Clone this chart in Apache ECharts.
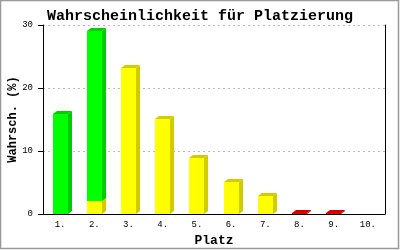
<!DOCTYPE html>
<html><head><meta charset="utf-8">
<script src="https://cdn.jsdelivr.net/npm/echarts@6/dist/echarts.min.js"></script>
<style>html,body{margin:0;padding:0;background:#fff}#c{width:400px;height:250px}</style>
</head><body><div id="c"></div>
<script>
const categories = ['1.', '2.', '3.', '4.', '5.', '6.', '7.', '8.', '9.', '10.'];
const yellowValues = [0, 2.1, 23.2, 15.1, 8.9, 5.1, 2.9, 0, 0, 0];
const greenValues = [15.9, 26.9, 0, 0, 0, 0, 0, 0, 0, 0];
const redValues = [0, 0, 0, 0, 0, 0, 0, 0.1, 0.1, 0];
const yTicks = [0, 10, 20, 30];

const stackOrder = [
  { values: yellowValues, front: '#ffff00', side: '#d0cc00' },
  { values: greenValues, front: '#00ff00', side: '#00cc00' },
  { values: redValues, front: '#ee0000', side: '#cc0000' }
];

const base = categories.map(() => 0);
const series = stackOrder.map(s => {
  const data = [];
  s.values.forEach((v, i) => {
    if (v > 0) { data.push([i, base[i], base[i] + v]); base[i] += v; }
  });
  return {
    type: 'custom',
    data: data,
    renderItem: function (params, api) {
      const p0 = api.coord([api.value(0), api.value(1)]);
      const p1 = api.coord([api.value(0), api.value(2)]);
      const w = 15, dx = 4, dy = 3;
      const xl = Math.round(p0[0] - w / 2), xr = xl + w;
      const yb = Math.round(p0[1]), yt = Math.round(p1[1]);
      return {
        type: 'group',
        children: [
          { type: 'polygon', shape: { points: [[xr, yt], [xr + dx, yt - dy], [xr + dx, yb - dy], [xr, yb]] }, style: { fill: s.side } },
          { type: 'polygon', shape: { points: [[xl, yt], [xl + dx, yt - dy], [xr + dx, yt - dy], [xr, yt]] }, style: { fill: s.side } },
          { type: 'rect', shape: { x: xl, y: yt, width: w, height: yb - yt }, style: { fill: s.front } }
        ]
      };
    }
  };
});

const chart = echarts.init(document.getElementById('c'), null, { renderer: 'canvas' });
chart.setOption({
  animation: false,
  backgroundColor: '#fff',
  title: {
    text: 'Wahrscheinlichkeit für Platzierung',
    left: 'center', top: 4,
    textStyle: { fontFamily: 'Liberation Mono', fontWeight: 'bold', fontSize: 15, color: '#000' }
  },
  grid: { left: 43, right: 15, top: 25, bottom: 36, containLabel: false, outerBoundsMode: 'none' },
  xAxis: {
    type: 'category', data: categories,
    name: 'Platz', nameLocation: 'middle', nameGap: 20,
    nameTextStyle: { fontFamily: 'Liberation Mono', fontWeight: 'bold', fontSize: 13, color: '#000' },
    axisLine: { lineStyle: { color: '#000', width: 1 } },
    axisTick: { show: false },
    axisLabel: { fontFamily: 'Liberation Mono', fontSize: 9, color: '#000', margin: 6 }
  },
  yAxis: [{
    type: 'value', min: yTicks[0], max: yTicks[yTicks.length - 1], interval: 10,
    name: 'Wahrsch. (%)', nameLocation: 'middle', nameGap: 24, nameMoveOverlap: false,
    nameTextStyle: { fontFamily: 'Liberation Mono', fontWeight: 'bold', fontSize: 12, color: '#000' },
    axisLine: { show: true, lineStyle: { color: '#000', width: 1 } },
    axisTick: { show: true, length: 5, lineStyle: { color: '#000' } },
    axisLabel: { fontFamily: 'Liberation Mono', fontSize: 9, color: '#000', margin: 10 },
    splitLine: { show: true, lineStyle: { color: '#bbb', type: [2, 3] } }
  }, {
    type: 'value', position: 'right', min: 0, max: 30, interval: 10,
    axisLine: { show: true, lineStyle: { color: '#000', width: 1 } },
    axisTick: { show: false }, axisLabel: { show: false }, splitLine: { show: false }
  }],
  graphic: [{
    type: 'rect', z: 100, silent: true,
    shape: { x: 0.5, y: 0.5, width: 398, height: 248 },
    style: { fill: null, stroke: '#999', lineWidth: 1.5 }
  }],
  series: series
});
</script></body></html>
